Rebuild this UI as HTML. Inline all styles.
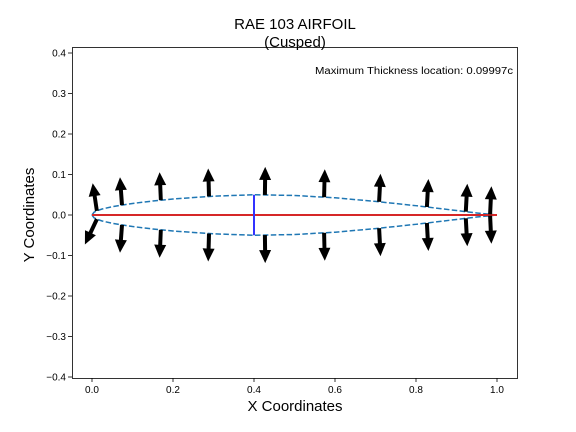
<!DOCTYPE html>
<html><head><meta charset="utf-8"><style>
body{margin:0;background:#fff;}
svg{display:block;font-family:"Liberation Sans","DejaVu Sans",sans-serif;}
</style></head><body>
<svg id="c" width="576" height="432" xmlns="http://www.w3.org/2000/svg">
<rect x="0" y="0" width="576" height="432" fill="#fff"/>
<text x="295" y="29" font-size="15" text-anchor="middle">RAE 103 AIRFOIL</text>
<text x="295" y="47" font-size="15" text-anchor="middle">(Cusped)</text>
<text x="295" y="411" font-size="15" text-anchor="middle">X Coordinates</text>
<text transform="translate(34,215) rotate(-90)" font-size="15" text-anchor="middle">Y Coordinates</text>
<text x="513" y="74" font-size="10" text-anchor="end" textLength="198" lengthAdjust="spacingAndGlyphs">Maximum Thickness location: 0.09997c</text>
<g id="plot"></g>
<rect x="72.5" y="47.5" width="445" height="331" fill="none" stroke="#000" stroke-width="0.8"/>
</svg>
<script>
const xs=[0,0.005,0.0125,0.025,0.05,0.1,0.15,0.2,0.3,0.4,0.5,0.6,0.7,0.8,0.9,0.95,1.0];
const yt=[0,0.0068,0.0105,0.0148,0.0205,0.0285,0.0345,0.0395,0.0465,0.0500,0.0482,0.0425,0.0335,0.0230,0.0110,0.0050,0];
const arrowX=[0.012,0.074,0.170,0.289,0.427,0.573,0.709,0.827,0.923,0.983];
const xTicks=[0,0.2,0.4,0.6,0.8,1.0];
const yTicks=[-0.4,-0.3,-0.2,-0.1,0,0.1,0.2,0.3,0.4];
const maxX=0.4, maxT=0.05;
const X=v=>92+v*405, Y=v=>215-v*405;
const NS="http://www.w3.org/2000/svg";
const g=document.getElementById('plot');
function mk(t,a){const e=document.createElementNS(NS,t);for(const k in a)e.setAttribute(k,a[k]);g.appendChild(e);return e;}
function interp(x){for(let i=0;i<xs.length-1;i++){if(x<=xs[i+1]){const f=(x-xs[i])/(xs[i+1]-xs[i]);return yt[i]+f*(yt[i+1]-yt[i]);}}return 0;}
xTicks.forEach(v=>{const l=mk('line',{x1:X(v),x2:X(v),y1:378,y2:382,stroke:'#000','stroke-width':0.8});

const t=mk('text',{x:X(v),y:393,'font-size':10,'text-anchor':'middle'});t.textContent=v.toFixed(1);
});
yTicks.forEach(v=>{const l=mk('line',{x1:68,x2:72,y1:Y(v),y2:Y(v),stroke:'#000','stroke-width':0.8});

const t=mk('text',{x:66,y:Y(v)+3.5,'font-size':10,'text-anchor':'end'});t.textContent=(v<0?'\u2212':'')+Math.abs(v).toFixed(1);
});
const up=xs.map((x,i)=>X(x)+','+Y(yt[i])).join(' ');
const lo=xs.map((x,i)=>X(x)+','+Y(-yt[i])).join(' ');
const u=mk('polyline',{points:up,fill:'none',stroke:'#1f77b4','stroke-width':1.5,'stroke-dasharray':'5.5,2.4'});

const lw=mk('polyline',{points:lo,fill:'none',stroke:'#1f77b4','stroke-width':1.5,'stroke-dasharray':'5.5,2.4'});

const ch=mk('line',{x1:X(0),x2:X(1),y1:Y(0),y2:Y(0),stroke:'#d62728','stroke-width':2});

const mt=mk('line',{x1:X(maxX),x2:X(maxX),y1:Y(maxT),y2:Y(-maxT),stroke:'#3333ff','stroke-width':2});

function arrow(px,py,nx,ny){const L=28,H=13,HW=6,SW=2;const tx=-ny,ty=nx;
const bx=px+nx*(L-H),by=py+ny*(L-H);
const pts=[[px+tx*SW,py+ty*SW],[bx+tx*SW,by+ty*SW],[bx+tx*HW,by+ty*HW],[px+nx*L,py+ny*L],[bx-tx*HW,by-ty*HW],[bx-tx*SW,by-ty*SW],[px-tx*SW,py-ty*SW]];
const p=mk('polygon',{points:pts.map(q=>q[0].toFixed(1)+','+q[1].toFixed(1)).join(' '),fill:'#000'});
}
arrowX.forEach((x,i)=>{const d=0.004;let s=(interp(Math.min(x+d,1))-interp(Math.max(x-d,0)))/(Math.min(x+d,1)-Math.max(x-d,0));
const y=interp(x);
const su=i===0?s*0.35:s*0.45, sl=i===0?s*1.1:s*0.45;
let nx=-su,ny=-1,m=Math.hypot(nx,ny);arrow(X(x),Y(y),nx/m,ny/m);
nx=-sl;ny=1;m=Math.hypot(nx,ny);arrow(X(x),Y(-y),nx/m,ny/m);});
</script>
</body></html>
